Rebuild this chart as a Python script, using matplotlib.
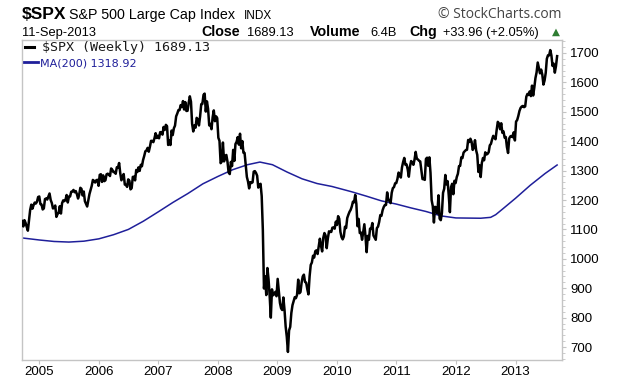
import numpy as np
import pandas as pd
import matplotlib
matplotlib.use("Agg")
import matplotlib.pyplot as plt
import matplotlib.dates as mdates
from matplotlib.ticker import MultipleLocator

# ---------- DATA (weekly Friday closes) ----------
spx_2004 = [1128.55, 1110.11, 1131.50, 1122.14, 1108.20, 1095.74, 1130.20, 1166.17,
            1184.17, 1170.34, 1182.65, 1191.17, 1188.00, 1194.20, 1210.13, 1211.92]
spx_2005 = [1186.19, 1184.52, 1167.87, 1171.36, 1203.03, 1205.30, 1201.59, 1211.37,
            1222.12, 1200.08, 1189.65, 1171.42, 1172.92, 1181.20, 1142.62, 1152.12,
            1156.85, 1178.84, 1154.05, 1189.28, 1198.78, 1196.02, 1200.93, 1216.96,
            1191.57, 1211.86, 1211.86, 1227.92, 1229.03, 1234.18, 1226.42, 1230.39,
            1219.71, 1205.10, 1218.02, 1241.48, 1237.91, 1215.29, 1228.81, 1195.90,
            1186.57, 1177.80, 1198.41, 1220.14, 1234.72, 1248.27, 1268.25, 1265.08,
            1259.37, 1267.32, 1268.66, 1248.29]
spx_2006 = [1285.45, 1287.61, 1261.49, 1283.72, 1264.03, 1266.99, 1287.24, 1289.43,
            1287.23, 1281.42, 1307.25, 1302.95, 1294.83, 1295.50, 1289.12, 1311.28,
            1310.61, 1325.76, 1291.24, 1267.03, 1280.16, 1288.22, 1252.30, 1251.54,
            1244.50, 1270.20, 1265.48, 1236.20, 1240.29, 1278.55, 1279.36, 1266.74,
            1302.30, 1295.09, 1311.01, 1298.92, 1319.66, 1314.78, 1335.85, 1349.59,
            1365.62, 1368.60, 1377.34, 1364.30, 1380.90, 1401.20, 1400.95, 1396.71,
            1409.84, 1427.09, 1410.76, 1418.30]
spx_2007 = [1409.71, 1430.73, 1430.50, 1422.18, 1448.39, 1438.06, 1455.54, 1451.19,
            1387.17, 1402.84, 1386.95, 1436.11, 1420.86, 1443.76, 1452.85, 1484.35,
            1494.07, 1505.62, 1505.85, 1522.75, 1515.73, 1536.34, 1507.67, 1532.91,
            1502.56, 1503.35, 1530.44, 1552.50, 1534.10, 1458.95, 1433.06, 1453.64,
            1445.94, 1479.37, 1473.99, 1453.55, 1484.25, 1525.75, 1526.75, 1557.59,
            1561.80, 1500.63, 1535.28, 1509.65, 1453.70, 1458.74, 1440.70, 1481.14,
            1504.66, 1467.95, 1484.46, 1478.49]
spx_2008 = [1411.63, 1401.02, 1325.19, 1330.61, 1395.42, 1331.29, 1349.99, 1353.11,
            1330.63, 1293.37, 1288.14, 1329.51, 1315.22, 1370.40, 1332.83, 1390.33,
            1397.84, 1413.90, 1388.28, 1425.35, 1375.93, 1400.38, 1360.68, 1360.03,
            1317.93, 1278.38, 1262.90, 1239.49, 1260.68, 1257.76, 1260.31, 1296.32,
            1298.20, 1292.20, 1282.83, 1242.31, 1251.70, 1255.08, 1213.27, 1099.23,
            899.22, 940.55, 876.77, 968.75, 930.99, 873.29, 800.03, 896.24,
            876.07, 879.73, 887.88, 872.80]
spx_2009 = [931.80, 890.35, 850.12, 831.95, 825.88, 868.60, 826.84, 770.05,
            735.09, 683.38, 756.55, 768.54, 815.94, 842.50, 856.56, 869.60,
            866.23, 877.52, 929.23, 882.88, 887.00, 919.14, 940.09, 946.21,
            921.23, 918.90, 896.42, 879.13, 940.38, 979.26, 987.48, 1010.48,
            1004.09, 1026.13, 1028.93, 1016.40, 1042.73, 1068.30, 1044.38, 1025.21,
            1071.49, 1087.68, 1079.60, 1036.19, 1069.30, 1093.48, 1091.38, 1091.49,
            1105.98, 1106.41, 1102.47, 1126.48]
spx_2010 = [1115.10, 1144.98, 1136.03, 1091.76, 1073.87, 1066.19, 1075.51, 1109.17,
            1104.49, 1138.70, 1149.99, 1159.90, 1166.59, 1178.10, 1194.37, 1192.13,
            1217.28, 1186.69, 1110.88, 1135.68, 1087.69, 1089.41, 1064.88, 1091.60,
            1117.51, 1076.76, 1022.58, 1077.96, 1064.88, 1102.66, 1101.60, 1121.64,
            1079.25, 1071.69, 1064.59, 1104.51, 1109.55, 1125.59, 1148.67, 1146.24,
            1165.15, 1176.19, 1183.08, 1183.26, 1225.85, 1199.21, 1199.73, 1189.40,
            1224.71, 1240.40, 1243.91, 1256.77, 1257.64]
spx_2011 = [1271.50, 1293.24, 1283.35, 1276.34, 1310.87, 1329.15, 1343.01, 1319.88,
            1321.15, 1304.28, 1279.21, 1313.80, 1332.41, 1328.17, 1319.68, 1337.38,
            1363.61, 1340.20, 1337.77, 1333.27, 1331.10, 1300.16, 1270.98, 1271.50,
            1268.45, 1339.67, 1343.80, 1316.14, 1345.02, 1292.28, 1199.38, 1178.81,
            1123.53, 1176.80, 1173.97, 1154.23, 1216.01, 1136.43, 1131.42, 1155.46,
            1224.58, 1238.25, 1285.09, 1253.23, 1263.85, 1215.65, 1158.67, 1244.28,
            1255.19, 1219.66, 1265.33, 1257.60]
spx_2012 = [1277.81, 1289.09, 1315.38, 1316.33, 1344.90, 1342.64, 1361.23, 1365.74,
            1369.63, 1370.87, 1404.17, 1397.11, 1408.47, 1398.08, 1370.26, 1378.53,
            1403.36, 1369.10, 1353.39, 1295.22, 1317.82, 1278.04, 1325.66, 1342.84,
            1335.02, 1362.16, 1354.68, 1356.78, 1362.66, 1385.97, 1390.99, 1405.87,
            1418.16, 1411.13, 1406.58, 1437.92, 1465.77, 1460.15, 1440.67, 1460.93,
            1428.59, 1433.19, 1411.94, 1414.20, 1379.85, 1359.88, 1409.15, 1416.18,
            1418.07, 1413.58, 1430.15, 1402.43]
spx_2013 = [1466.47, 1472.05, 1485.98, 1502.96, 1513.17, 1517.93, 1519.79, 1515.60,
            1518.20, 1551.18, 1560.70, 1556.89, 1569.19, 1553.28, 1588.85, 1555.25,
            1582.24, 1614.42, 1633.70, 1667.47, 1649.60, 1630.74, 1643.38, 1626.73,
            1592.43, 1606.28, 1631.89, 1680.19, 1692.09, 1691.65, 1709.67, 1691.42,
            1655.83, 1663.50, 1632.97, 1655.17, 1689.13]
first_week = "2004-09-17"

# 200-week moving average
ma_dates = ["2004-09-17", "2005-01-01", "2005-04-01", "2005-07-01", "2005-10-01",
            "2006-01-01", "2006-04-01", "2006-07-01", "2006-10-01", "2007-01-01",
            "2007-04-01", "2007-07-01", "2007-10-01", "2008-01-01", "2008-04-01",
            "2008-07-01", "2008-09-15", "2008-12-01", "2009-03-01", "2009-06-01",
            "2009-09-01", "2009-12-01", "2010-04-01", "2010-07-01", "2010-10-01",
            "2011-01-01", "2011-04-01", "2011-07-01", "2011-10-01", "2012-01-01",
            "2012-06-01", "2012-08-01", "2012-09-01", "2012-10-15", "2013-01-01",
            "2013-04-01", "2013-07-01", "2013-09-13"]
ma_vals = [1071, 1064, 1059, 1057, 1060,
           1068, 1082, 1100, 1128, 1160,
           1192, 1222, 1255, 1280, 1303,
           1320, 1329, 1320, 1295, 1272,
           1256, 1246, 1228, 1213, 1197,
           1186, 1173, 1161, 1146, 1139,
           1138, 1141, 1150, 1170, 1206,
           1250, 1290, 1319]

year_ticks = [str(y) for y in range(2005, 2014)]
y_ticks = list(range(700, 1800, 100))

# ---------- build series ----------
spx = spx_2004 + spx_2005 + spx_2006 + spx_2007 + spx_2008 + spx_2009 + \
      spx_2010 + spx_2011 + spx_2012 + spx_2013
weeks = pd.date_range(first_week, periods=len(spx), freq="W-FRI")
ma_x = pd.to_datetime(ma_dates)

NAVY = "#1f1f9a"
GRID = "#c4c4c4"

W, H = 620, 383
fig = plt.figure(figsize=(W / 100, H / 100), dpi=100)
plt.rcParams["font.family"] = ["Liberation Sans", "DejaVu Sans"]

def px(x, y):
    # pixel coords (top-left origin) -> figure fraction
    return x / W, 1 - y / H

L, R, T, B = 22, 562, 40, 360
ax = fig.add_axes([L / W, 1 - B / H, (R - L) / W, (B - T) / H])

ax.plot(weeks, spx, color="black", lw=1.8, solid_joinstyle="round", zorder=3)
ax.plot(ma_x, ma_vals, color=NAVY, lw=1.1, zorder=2)

ax.set_xlim(pd.Timestamp("2004-09-16"), pd.Timestamp("2013-10-13"))
ax.set_ylim(656, 1744)

ax.set_xticks(pd.to_datetime([y + "-01-01" for y in year_ticks]))
ax.set_xticklabels(year_ticks, fontsize=9.5)
ax.set_yticks(y_ticks)
ax.set_yticklabels([str(v) for v in y_ticks], fontsize=9.5)
ax.yaxis.set_minor_locator(MultipleLocator(20))
ax.yaxis.tick_right()
ax.tick_params(axis="y", which="major", length=3, color=GRID, pad=3)
ax.tick_params(axis="y", which="minor", length=2, color=GRID)
ax.tick_params(axis="x", length=3, color=GRID, pad=1)
for s in ax.spines.values():
    s.set_color(GRID)
    s.set_linewidth(1.0)

# ---------- header ----------
fig.text(*px(22, 19), "$SPX", fontsize=12.5, fontweight="bold", va="baseline")
fig.text(*px(69, 19), "S&P 500 Large Cap Index", fontsize=10.3, va="baseline")
fig.text(*px(244, 19), "INDX", fontsize=8.5, va="baseline")
fig.text(*px(561, 18), "\u00a9 StockCharts.com", fontsize=10, color="#444444",
         family="Open Sans", ha="right", va="baseline")

fig.text(*px(22, 36), "11-Sep-2013", fontsize=9.3, va="baseline")
fig.text(*px(201, 36), "Close", fontsize=10.3, fontweight="bold", va="baseline")
fig.text(*px(247, 36), "1689.13", fontsize=9.3, va="baseline")
fig.text(*px(310, 36), "Volume", fontsize=10.3, fontweight="bold", va="baseline")
fig.text(*px(370, 36), "6.4B", fontsize=9.3, va="baseline")
fig.text(*px(409, 36), "Chg", fontsize=10.3, fontweight="bold", va="baseline")
fig.text(*px(443, 36), "+33.96 (+2.05%)", fontsize=9.3, va="baseline")
fig.text(*px(552, 35), "\u25b2", fontsize=7.5, color="#2e7d32", va="baseline",
         family="DejaVu Sans")

# ---------- legend ----------
fig.add_artist(plt.Line2D([25 / W, 34 / W], [1 - 47 / H, 1 - 47 / H], color="black", lw=2.2))
fig.text(*px(42, 51), "$SPX (Weekly) 1689.13", fontsize=9.6, color="#1a1a1a",
         family="DejaVu Sans Mono", va="baseline")
fig.add_artist(plt.Line2D([24 / W, 38 / W], [1 - 62 / H, 1 - 62 / H], color=NAVY, lw=2.0))
fig.text(*px(40, 66), "MA(200) 1318.92", fontsize=8, color=NAVY,
         family="DejaVu Sans", va="baseline")

fig.savefig("out.png", dpi=100)
